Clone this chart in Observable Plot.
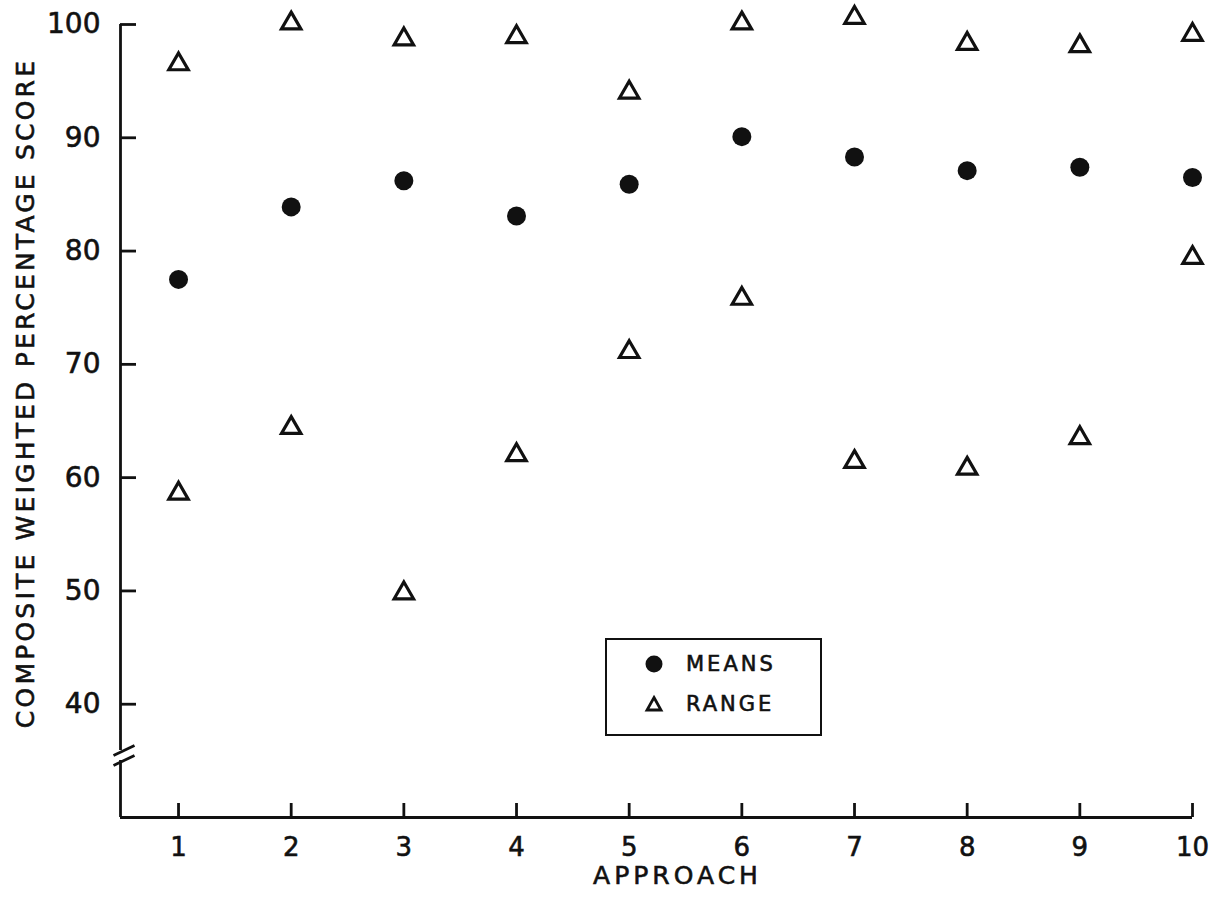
<!DOCTYPE html>
<html>
<head>
<meta charset="utf-8">
<script src="https://cdn.jsdelivr.net/npm/d3@7"></script>
<script src="https://cdn.jsdelivr.net/npm/@observablehq/plot@0.6"></script>
<style>
  html, body { margin: 0; padding: 0; background: #fff; }
  #wrap { position: relative; width: 1211px; height: 899px; font-family: "DejaVu Sans", sans-serif; color: #111; }
  #wrap svg text { stroke: #111; stroke-width: 0.6px; }
  #legend { position: absolute; left: 605px; top: 638px; width: 213px; height: 94px; border: 2px solid #111; background: #fff; }
  #legend .row { position: absolute; left: 0; height: 30px; display: flex; align-items: center; }
  #legend svg { display: block; }
  #legend span { font-size: 21px; letter-spacing: 3px; margin-left: 22px; -webkit-text-stroke: 0.6px #111; }
</style>
</head>
<body>
<div id="wrap"></div>
<script>
// ---- data ----
const approaches = [1, 2, 3, 4, 5, 6, 7, 8, 9, 10];
const means      = [77.5, 83.9, 86.2, 83.1, 85.9, 90.1, 88.3, 87.1, 87.4, 86.5];
const rangeHigh  = [96.5, 100.1, 98.7, 98.9, 94.0, 100.1, 100.6, 98.3, 98.1, 99.1];
const rangeLow   = [58.6, 64.4, 49.8, 62.0, 71.1, 75.8, 61.4, 60.8, 63.5, 79.4];
const yTicks = [40, 50, 60, 70, 80, 90, 100];
const xTicks = [1, 2, 3, 4, 5, 6, 7, 8, 9, 10];
const yLabel = "COMPOSITE WEIGHTED PERCENTAGE SCORE";
const xLabel = "APPROACH";
const legendItems = ["MEANS", "RANGE"];

// ---- layout ----
const W = 1211, H = 899;
const mL = 120, mR = 19, mT = 24, mB = 82;
const xDomain = [0.485, 10];
const yDomain = [30, 100];
const ux = (xDomain[1] - xDomain[0]) / (W - mL - mR); // x units per px
const uy = (yDomain[1] - yDomain[0]) / (H - mT - mB); // y units per px
const x0 = xDomain[0], y0 = yDomain[0];

const meanData = approaches.map((a, i) => ({a, v: means[i]}));
const rangeData = approaches.flatMap((a, i) => [{a, v: rangeHigh[i]}, {a, v: rangeLow[i]}]);

// axis break (in data units, derived from pixel offsets)
const breakTop = y0 + 67 * uy;
const breakBot = y0 + 57 * uy;
const slashes = [
  {x1: x0 - 7 * ux, y1: breakTop - 5 * uy, x2: x0 + 14 * ux, y2: breakTop + 5 * uy},
  {x1: x0 - 7 * ux, y1: breakBot - 5 * uy, x2: x0 + 14 * ux, y2: breakBot + 5 * uy}
];

const chart = Plot.plot({
  width: W, height: H,
  marginLeft: mL, marginRight: mR, marginTop: mT, marginBottom: mB,
  style: {fontFamily: "DejaVu Sans, sans-serif", color: "#111", background: "#fff", overflow: "visible"},
  x: {domain: xDomain, axis: null},
  y: {domain: yDomain, axis: null},
  marks: [
    // spines
    Plot.ruleX([x0], {y1: breakTop, y2: yDomain[1], stroke: "#111", strokeWidth: 2.8}),
    Plot.ruleX([x0], {y1: y0, y2: breakBot, stroke: "#111", strokeWidth: 2.8}),
    Plot.ruleY([y0], {x1: x0, x2: xDomain[1], stroke: "#111", strokeWidth: 2.8}),
    Plot.link(slashes, {x1: "x1", y1: "y1", x2: "x2", y2: "y2", stroke: "#111", strokeWidth: 2.8}),
    // inward ticks
    Plot.ruleY(yTicks, {x1: x0, x2: x0 + 16 * ux, stroke: "#111", strokeWidth: 2.8}),
    Plot.ruleX(xTicks, {y1: y0, y2: y0 + 14 * uy, stroke: "#111", strokeWidth: 2.8}),
    // tick labels
    Plot.axisY(yTicks, {anchor: "left", tickSize: 0, tickPadding: 20, fontSize: 28, tickFormat: d => String(d)}),
    Plot.axisX(xTicks, {anchor: "bottom", tickSize: 0, tickPadding: 20, fontSize: 26, tickFormat: d => String(d)}),
    // axis titles
    Plot.text([yLabel], {frameAnchor: "left", textAnchor: "middle", rotate: -90, dx: -95, dy: -28, fontSize: 25, text: d => d}),
    Plot.text([xLabel], {frameAnchor: "bottom", textAnchor: "middle", dx: 21, dy: 66, fontSize: 25, text: d => d}),
    // data
    Plot.dot(rangeData, {x: "a", y: "v", symbol: "triangle", r: 7.2, stroke: "#111", strokeWidth: 3.2, fill: "none", strokeLinejoin: "miter"}),
    Plot.dot(meanData, {x: "a", y: "v", symbol: "circle", r: 9.5, fill: "#111", stroke: "none"})
  ]
});

// letter spacing for titles
d3.select(chart).selectAll("text").each(function() {
  const t = this.textContent;
  if (t === yLabel) this.style.letterSpacing = "3.2px";
  if (t === xLabel) this.style.letterSpacing = "4px";
});

const wrap = document.getElementById("wrap");
wrap.appendChild(chart);

// legend (inside plot area)
const legend = document.createElement("div");
legend.id = "legend";
legend.innerHTML = `
  <div class="row" style="top:9px;left:37px">
    <svg width="20" height="20"><circle cx="10" cy="10" r="8.5" fill="#111"/></svg>
    <span>${legendItems[0]}</span>
  </div>
  <div class="row" style="top:49px;left:37px">
    <svg width="20" height="20"><path d="M10,3.5 L17,16 L3,16 Z" fill="none" stroke="#111" stroke-width="2.8"/></svg>
    <span>${legendItems[1]}</span>
  </div>`;
wrap.appendChild(legend);
</script>
</body>
</html>
